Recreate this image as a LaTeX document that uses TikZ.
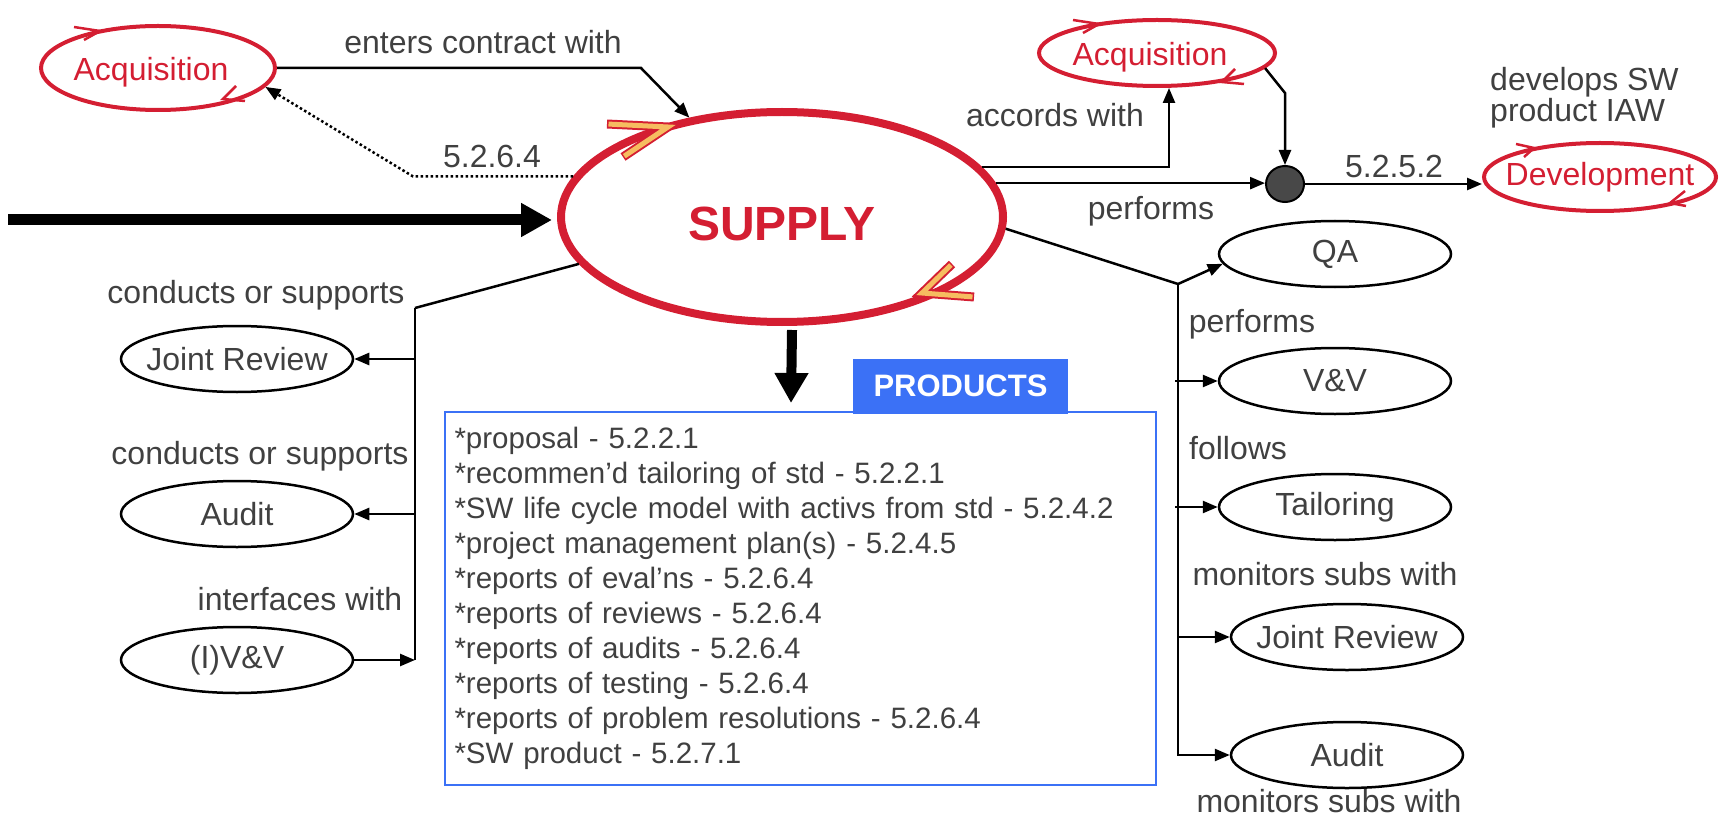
\documentclass[tikz,border=0pt]{standalone}
\usepackage{fontspec}
\setmainfont{Liberation Sans}
\usetikzlibrary{arrows.meta,shapes.geometric,calc}

\definecolor{procred}{RGB}{212,30,50}
\definecolor{chevfill}{RGB}{246,188,96}
\definecolor{txtgray}{RGB}{64,64,64}
\definecolor{prodblue}{RGB}{59,113,246}
\definecolor{hubgray}{RGB}{72,72,72}

\begin{document}
\begin{tikzpicture}[x=1pt,y=-1pt,
  lbl/.style={text=txtgray, font=\fontsize{32}{36}\selectfont, inner sep=0pt},
  proc/.style={ellipse, draw=procred, line width=4pt, text=procred,
    font=\fontsize{32}{36}\selectfont, inner xsep=-40pt, inner ysep=-20pt,
    text height=31pt},
  act/.style={ellipse, draw=black, line width=2.5pt, text=txtgray,
    font=\fontsize{32}{36}\selectfont, inner xsep=-40pt, inner ysep=-20pt,
    minimum width=232pt, minimum height=66pt},
  conn/.style={line width=2.5pt, -{Triangle[length=15pt,width=12pt]}},
  link/.style={line width=2.5pt},
  chev/.style={draw=procred, line width=2.5pt, line join=miter},
  cyclemark/.style={line width=9pt, draw=procred, line join=miter},
  cyclefill/.style={line width=5pt, draw=chevfill, line join=miter,
    shorten <=1.5pt, shorten >=1.5pt},
  bigarrow/.style={line width=11pt, -{Triangle[length=31pt,width=32pt]}},
]
\useasboundingbox (0,0) rectangle (1723,818);

% ---- process ellipses
\node[ellipse, draw=procred, line width=8pt, minimum width=442pt,
  minimum height=210pt, inner sep=0pt, text=procred,
  font=\bfseries\fontsize{48}{50}\selectfont, text height=48pt, text depth=0pt]
  (supply) at (782,217) {SUPPLY};
\node[proc, minimum width=234pt, minimum height=84pt] (acqL) at (158,68) {Acquisition\hspace*{14pt}};
\node[proc, minimum width=236pt, minimum height=66pt] (acqR) at (1157,53) {Acquisition\hspace*{14pt}};
\node[proc, minimum width=232pt, minimum height=68pt, text height=24pt] (dev) at (1600,177) {Development};

% direction marks on the process ellipses
\draw[chev] (74,27) -- (100,31) -- (84,40);
\draw[chev] (236,86) -- (223,99) -- (245,101);
\draw[chev] (1073,20) -- (1099,24) -- (1083,33);
\draw[chev] (1235,69) -- (1222,82) -- (1244,84);
\draw[chev] (1516,144) -- (1534,148) -- (1524,157);
\draw[chev] (1685,191) -- (1670,203) -- (1686,206);
\draw[cyclemark] (607,124) -- (668,127) -- (623,157);
\draw[cyclefill] (607,124) -- (668,127) -- (623,157);
\draw[cyclemark] (952,264) -- (922,293) -- (974,297);
\draw[cyclefill] (952,264) -- (922,293) -- (974,297);

% ---- hub
\node[ellipse, draw, line width=2pt, fill=hubgray, minimum width=38pt,
  minimum height=36pt, inner sep=0pt] (hub) at (1285,184) {};

% ---- activities
\node[act] (jrL) at (237,359) {Joint Review};
\node[act] (auL) at (237,514) {Audit};
\node[act] (ivv) at (237,660) {(I)V\&V};
\node[act] (qa) at (1335,254) {QA};
\node[act] (vv) at (1335,381) {V\&V};
\node[act] (tail) at (1335,507) {Tailoring};
\node[act] (jrR) at (1347,637) {Joint Review};
\node[act] (auR) at (1347,755) {Audit};

% ---- labels
\node[lbl] (lEnters) at (483,42) {enters contract with};
\node[lbl] (l5264) at (492,156) {5.2.6.4};
\node[lbl] (lAccords) at (1055,115) {accords with};
\node[lbl, anchor=west, align=left, font=\fontsize{32}{31}\selectfont]
  (lDevelops) at (1490,98) {develops SW\\product IAW};
\node[lbl] (l5252) at (1394,166) {5.2.5.2};
\node[lbl] (lPerf1) at (1151,211) {performs};
\node[lbl] (lCond1) at (256,295) {conducts or supports};
\node[lbl] (lCond2) at (260,456) {conducts or supports};
\node[lbl] (lIntf) at (300,599) {interfaces with};
\node[lbl] (lPerf2) at (1252,324) {performs};
\node[lbl] (lFollows) at (1238,448) {follows};
\node[lbl] (lMon1) at (1325,574) {monitors subs with};
\node[lbl] (lMon2) at (1329,801) {monitors subs with};

% ---- products
\node[draw=prodblue, line width=2pt, minimum width=711pt, minimum height=373pt,
  text width=692pt, align=left, inner xsep=9pt, text=txtgray,
  font=\fontsize{29.5}{35}\selectfont] (prod) at (800.5,598.5)
  {{*}proposal - 5.2.2.1\\
   {*}recommen’d tailoring of std - 5.2.2.1\\
   {*}SW life cycle model with activs from std - 5.2.4.2\\
   {*}project management plan(s) - 5.2.4.5\\
   {*}reports of eval’ns - 5.2.6.4\\
   {*}reports of reviews - 5.2.6.4\\
   {*}reports of audits - 5.2.6.4\\
   {*}reports of testing - 5.2.6.4\\
   {*}reports of problem resolutions - 5.2.6.4\\
   {*}SW product - 5.2.7.1};
\node[fill=prodblue, minimum width=215pt, minimum height=55pt, inner sep=0pt,
  text=white, font=\bfseries\fontsize{31}{33}\selectfont] (tab) at (960.5,386) {PRODUCTS};

% ---- connectors, top left
\coordinate (cbend) at (641,68);
\draw[conn] (acqL.east) -- (cbend) -- (supply.133);
\coordinate (dbend) at (413,177);
\draw[conn, dash pattern=on 2.5pt off 2.5pt] (supply.169) -- (dbend |- supply.169) -- (acqL.-10);
\coordinate (feed) at (8,220);
\draw[bigarrow, shorten >=5pt] (feed) -- (feed -| supply.west);
\draw[line width=10pt, -{Triangle[length=30pt,width=32pt]}]
  ($(supply.south)+(10,4)$) -- ($(prod.north west)+(347,-8)$);

% ---- connectors, top right
\draw[conn] (supply.14) -| ($(acqR.south)+(12,0)$);
\draw[conn] (supply.9) -- (supply.9 -| hub.west);
\coordinate (hbend) at (1285,93);
\draw[conn] (acqR.-8) -- (hbend) -- (hub.north);
\draw[conn] (hub.east) -- (hub.east -| dev.west);

% ---- connectors, right column
\coordinate (rj) at (1178,284);
\draw[link] (supply.-3) -- (rj);
\draw[conn] (rj) -- (qa.185);
\draw[conn] ($(rj |- vv.west)+(-3,0)$) -- (vv.west);
\draw[conn] ($(rj |- tail.west)+(-3,0)$) -- (tail.west);
\draw[conn] (rj |- jrR.west) -- (jrR.west);
\draw[conn] (rj) |- (auR.west);

% ---- connectors, left column
\coordinate (lj) at (415,308);
\draw[link] (supply.193) -- (lj);
\draw[link] (lj) -- (lj |- ivv.east);
\draw[conn] (lj |- jrL.east) -- (jrL.east);
\draw[conn] (lj |- auL.east) -- (auL.east);
\draw[conn] (ivv.east) -- (lj |- ivv.east);
\end{tikzpicture}
\end{document}
